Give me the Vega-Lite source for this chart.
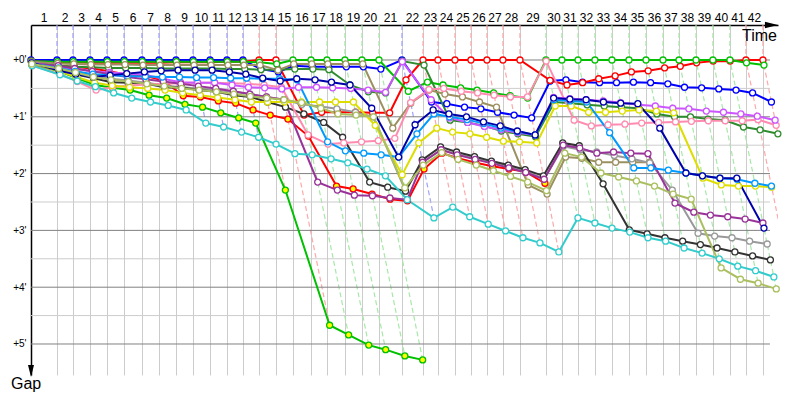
{
"$schema":"https://vega.github.io/schema/vega-lite/v6.json",
"width":747,"height":350,
"autosize":{"type":"none"},
"padding":{"left":31,"top":25,"right":22,"bottom":25},
"config":{"view":{"stroke":null},"font":"Liberation Sans"},
"datasets":{
"drv":[
{"d":"blue","l":0,"t":0,"g":0},{"d":"blue","l":1,"t":2.26,"g":0},{"d":"blue","l":2,"t":3.65,"g":0},{"d":"blue","l":3,"t":5.13,"g":0},{"d":"blue","l":4,"t":6.61,"g":0},{"d":"blue","l":5,"t":8.09,"g":0},{"d":"blue","l":6,"t":9.65,"g":0},{"d":"blue","l":7,"t":11.13,"g":0},{"d":"blue","l":8,"t":12.61,"g":0},{"d":"blue","l":9,"t":14.09,"g":0},{"d":"blue","l":10,"t":15.57,"g":0},{"d":"blue","l":11,"t":17.04,"g":0},{"d":"blue","l":12,"t":18.43,"g":0},{"d":"blue","l":13,"t":19.99,"g":0.16},{"d":"blue","l":14,"t":21.51,"g":0.21},{"d":"blue","l":15,"t":22.88,"g":0.10},{"d":"blue","l":16,"t":24.47,"g":0.12},{"d":"blue","l":17,"t":25.86,"g":0.12},{"d":"blue","l":18,"t":27.42,"g":0.12},{"d":"blue","l":19,"t":28.90,"g":0.12},{"d":"blue","l":20,"t":30.42,"g":0.16},{"d":"blue","l":21,"t":32.26,"g":0},{"d":"blue","l":22,"t":34.83,"g":0.74},{"d":"blue","l":23,"t":36.16,"g":0.77},{"d":"blue","l":24,"t":37.70,"g":0.83},{"d":"blue","l":25,"t":39.12,"g":0.86},{"d":"blue","l":26,"t":40.57,"g":0.92},{"d":"blue","l":27,"t":42.01,"g":0.97},{"d":"blue","l":28,"t":43.54,"g":1.02},{"d":"blue","l":29,"t":45.15,"g":0.37},{"d":"blue","l":30,"t":46.52,"g":0.35},{"d":"blue","l":31,"t":47.96,"g":0.39},{"d":"blue","l":32,"t":49.44,"g":0.40},{"d":"blue","l":33,"t":50.92,"g":0.40},{"d":"blue","l":34,"t":52.39,"g":0.39},{"d":"blue","l":35,"t":53.88,"g":0.40},{"d":"blue","l":36,"t":55.38,"g":0.42},{"d":"blue","l":37,"t":56.83,"g":0.48},{"d":"blue","l":38,"t":58.32,"g":0.49},{"d":"blue","l":39,"t":59.81,"g":0.51},{"d":"blue","l":40,"t":61.31,"g":0.53},{"d":"blue","l":41,"t":62.75,"g":0.58},{"d":"blue","l":42,"t":64.39,"g":0.74},
{"d":"red","l":0,"t":0.02,"g":0.02},{"d":"red","l":1,"t":2.30,"g":0.04},{"d":"red","l":2,"t":3.69,"g":0.04},{"d":"red","l":3,"t":5.18,"g":0.05},{"d":"red","l":4,"t":6.66,"g":0.05},{"d":"red","l":5,"t":8.14,"g":0.05},{"d":"red","l":6,"t":9.70,"g":0.05},{"d":"red","l":7,"t":11.18,"g":0.05},{"d":"red","l":8,"t":12.65,"g":0.04},{"d":"red","l":9,"t":14.13,"g":0.04},{"d":"red","l":10,"t":15.61,"g":0.04},{"d":"red","l":11,"t":17.07,"g":0.03},{"d":"red","l":12,"t":18.46,"g":0.03},{"d":"red","l":13,"t":19.83,"g":0},{"d":"red","l":14,"t":21.30,"g":0},{"d":"red","l":15,"t":23.75,"g":0.97},{"d":"red","l":16,"t":25.27,"g":0.92},{"d":"red","l":17,"t":26.66,"g":0.92},{"d":"red","l":18,"t":28.22,"g":0.92},{"d":"red","l":19,"t":29.71,"g":0.93},{"d":"red","l":20,"t":31.19,"g":0.93},{"d":"red","l":21,"t":32.61,"g":0.35},{"d":"red","l":22,"t":34.09,"g":0},{"d":"red","l":23,"t":35.39,"g":0},{"d":"red","l":24,"t":36.87,"g":0},{"d":"red","l":25,"t":38.26,"g":0},{"d":"red","l":26,"t":39.65,"g":0},{"d":"red","l":27,"t":41.04,"g":0},{"d":"red","l":28,"t":42.52,"g":0},{"d":"red","l":29,"t":45.14,"g":0.36},{"d":"red","l":30,"t":46.61,"g":0.44},{"d":"red","l":31,"t":47.97,"g":0.40},{"d":"red","l":32,"t":49.37,"g":0.33},{"d":"red","l":33,"t":50.80,"g":0.28},{"d":"red","l":34,"t":52.21,"g":0.21},{"d":"red","l":35,"t":53.67,"g":0.19},{"d":"red","l":36,"t":55.10,"g":0.14},{"d":"red","l":37,"t":56.46,"g":0.11},{"d":"red","l":38,"t":57.88,"g":0.05},{"d":"red","l":39,"t":59.32,"g":0.02},{"d":"red","l":40,"t":60.80,"g":0.02},{"d":"red","l":41,"t":62.17,"g":0},{"d":"red","l":42,"t":63.65,"g":0},
{"d":"green","l":0,"t":0.02,"g":0.02},{"d":"green","l":1,"t":2.29,"g":0.03},{"d":"green","l":2,"t":3.68,"g":0.03},{"d":"green","l":3,"t":5.16,"g":0.03},{"d":"green","l":4,"t":6.64,"g":0.03},{"d":"green","l":5,"t":8.12,"g":0.03},{"d":"green","l":6,"t":9.68,"g":0.03},{"d":"green","l":7,"t":11.16,"g":0.03},{"d":"green","l":8,"t":12.64,"g":0.03},{"d":"green","l":9,"t":14.12,"g":0.03},{"d":"green","l":10,"t":15.60,"g":0.03},{"d":"green","l":11,"t":17.07,"g":0.03},{"d":"green","l":12,"t":18.46,"g":0.03},{"d":"green","l":13,"t":19.87,"g":0.04},{"d":"green","l":14,"t":21.37,"g":0.07},{"d":"green","l":15,"t":22.78,"g":0},{"d":"green","l":16,"t":24.35,"g":0},{"d":"green","l":17,"t":25.74,"g":0},{"d":"green","l":18,"t":27.30,"g":0},{"d":"green","l":19,"t":28.78,"g":0},{"d":"green","l":20,"t":30.26,"g":0},{"d":"green","l":21,"t":32.81,"g":0.55},{"d":"green","l":22,"t":34.48,"g":0.39},{"d":"green","l":23,"t":35.83,"g":0.44},{"d":"green","l":24,"t":37.36,"g":0.49},{"d":"green","l":25,"t":38.79,"g":0.53},{"d":"green","l":26,"t":40.23,"g":0.58},{"d":"green","l":27,"t":41.67,"g":0.63},{"d":"green","l":28,"t":43.19,"g":0.67},{"d":"green","l":29,"t":44.78,"g":0},{"d":"green","l":30,"t":46.17,"g":0},{"d":"green","l":31,"t":47.57,"g":0},{"d":"green","l":32,"t":49.04,"g":0},{"d":"green","l":33,"t":50.52,"g":0},{"d":"green","l":34,"t":52.00,"g":0},{"d":"green","l":35,"t":53.48,"g":0},{"d":"green","l":36,"t":54.96,"g":0},{"d":"green","l":37,"t":56.35,"g":0},{"d":"green","l":38,"t":57.83,"g":0},{"d":"green","l":39,"t":59.30,"g":0},{"d":"green","l":40,"t":60.78,"g":0},{"d":"green","l":41,"t":62.22,"g":0.05},{"d":"green","l":42,"t":63.74,"g":0.09},
{"d":"redY","l":0,"t":0.05,"g":0.05},{"d":"redY","l":1,"t":2.36,"g":0.10},{"d":"redY","l":2,"t":3.77,"g":0.12},{"d":"redY","l":3,"t":5.28,"g":0.15},{"d":"redY","l":4,"t":6.81,"g":0.20},{"d":"redY","l":5,"t":8.35,"g":0.26},{"d":"redY","l":6,"t":9.93,"g":0.28},{"d":"redY","l":7,"t":11.49,"g":0.36},{"d":"redY","l":8,"t":13.24,"g":0.63},{"d":"redY","l":9,"t":14.74,"g":0.65},{"d":"redY","l":10,"t":16.29,"g":0.72},{"d":"redY","l":11,"t":17.80,"g":0.76},{"d":"redY","l":12,"t":19.31,"g":0.88},{"d":"redY","l":13,"t":20.80,"g":0.97},{"d":"redY","l":14,"t":22.34,"g":1.04},{"d":"redY","l":15,"t":24.12,"g":1.34},{"d":"redY","l":16,"t":26.57,"g":2.22},{"d":"redY","l":17,"t":28.01,"g":2.27},{"d":"redY","l":18,"t":29.66,"g":2.36},{"d":"redY","l":19,"t":31.23,"g":2.45},{"d":"redY","l":20,"t":32.74,"g":2.48},{"d":"redY","l":21,"t":34.18,"g":1.92},{"d":"redY","l":22,"t":35.73,"g":1.64},{"d":"redY","l":23,"t":37.12,"g":1.73},{"d":"redY","l":24,"t":38.68,"g":1.81},{"d":"redY","l":25,"t":40.13,"g":1.87},{"d":"redY","l":26,"t":41.57,"g":1.92},{"d":"redY","l":27,"t":43.01,"g":1.97},{"d":"redY","l":28,"t":44.69,"g":2.17},
{"d":"greenY","l":0,"t":0.08,"g":0.08},{"d":"greenY","l":1,"t":2.46,"g":0.20},{"d":"greenY","l":2,"t":3.97,"g":0.32},{"d":"greenY","l":3,"t":5.57,"g":0.44},{"d":"greenY","l":4,"t":7.10,"g":0.49},{"d":"greenY","l":5,"t":8.62,"g":0.53},{"d":"greenY","l":6,"t":10.27,"g":0.62},{"d":"greenY","l":7,"t":11.80,"g":0.67},{"d":"greenY","l":8,"t":13.39,"g":0.78},{"d":"greenY","l":9,"t":14.92,"g":0.83},{"d":"greenY","l":10,"t":16.50,"g":0.93},{"d":"greenY","l":11,"t":18.06,"g":1.02},{"d":"greenY","l":12,"t":19.54,"g":1.11},{"d":"greenY","l":13,"t":22.12,"g":2.29},{"d":"greenY","l":14,"t":25.97,"g":4.67},{"d":"greenY","l":15,"t":27.62,"g":4.84},{"d":"greenY","l":16,"t":29.37,"g":5.02},{"d":"greenY","l":17,"t":30.84,"g":5.10},{"d":"greenY","l":18,"t":32.51,"g":5.21},{"d":"greenY","l":19,"t":34.06,"g":5.28},
{"d":"darkgreen","l":0,"t":0.05,"g":0.05},{"d":"darkgreen","l":1,"t":2.36,"g":0.10},{"d":"darkgreen","l":2,"t":3.77,"g":0.12},{"d":"darkgreen","l":3,"t":5.26,"g":0.13},{"d":"darkgreen","l":4,"t":6.75,"g":0.14},{"d":"darkgreen","l":5,"t":8.23,"g":0.14},{"d":"darkgreen","l":6,"t":9.79,"g":0.14},{"d":"darkgreen","l":7,"t":11.28,"g":0.15},{"d":"darkgreen","l":8,"t":12.76,"g":0.15},{"d":"darkgreen","l":9,"t":14.24,"g":0.15},{"d":"darkgreen","l":10,"t":15.72,"g":0.15},{"d":"darkgreen","l":11,"t":17.20,"g":0.16},{"d":"darkgreen","l":12,"t":18.59,"g":0.16},{"d":"darkgreen","l":13,"t":20.00,"g":0.17},{"d":"darkgreen","l":14,"t":21.47,"g":0.17},{"d":"darkgreen","l":15,"t":22.94,"g":0.16},{"d":"darkgreen","l":16,"t":24.51,"g":0.16},{"d":"darkgreen","l":17,"t":25.91,"g":0.17},{"d":"darkgreen","l":18,"t":27.74,"g":0.44},{"d":"darkgreen","l":19,"t":29.34,"g":0.56},{"d":"darkgreen","l":20,"t":30.84,"g":0.58},{"d":"darkgreen","l":21,"t":32.28,"g":0.02},{"d":"darkgreen","l":22,"t":34.18,"g":0.09},{"d":"darkgreen","l":23,"t":36.45,"g":1.06},{"d":"darkgreen","l":24,"t":37.97,"g":1.10},{"d":"darkgreen","l":25,"t":39.42,"g":1.16},{"d":"darkgreen","l":26,"t":40.90,"g":1.25},{"d":"darkgreen","l":27,"t":42.34,"g":1.30},{"d":"darkgreen","l":28,"t":43.87,"g":1.35},{"d":"darkgreen","l":29,"t":45.52,"g":0.74},{"d":"darkgreen","l":30,"t":46.93,"g":0.76},{"d":"darkgreen","l":31,"t":48.36,"g":0.79},{"d":"darkgreen","l":32,"t":49.85,"g":0.81},{"d":"darkgreen","l":33,"t":51.35,"g":0.83},{"d":"darkgreen","l":34,"t":52.85,"g":0.85},{"d":"darkgreen","l":35,"t":54.43,"g":0.95},{"d":"darkgreen","l":36,"t":55.96,"g":1.00},{"d":"darkgreen","l":37,"t":57.35,"g":1.00},{"d":"darkgreen","l":38,"t":58.87,"g":1.04},{"d":"darkgreen","l":39,"t":60.36,"g":1.06},{"d":"darkgreen","l":40,"t":61.96,"g":1.18},{"d":"darkgreen","l":41,"t":63.40,"g":1.23},{"d":"darkgreen","l":42,"t":64.95,"g":1.30},
{"d":"olive","l":0,"t":0.03,"g":0.03},{"d":"olive","l":1,"t":2.32,"g":0.06},{"d":"olive","l":2,"t":3.72,"g":0.07},{"d":"olive","l":3,"t":5.21,"g":0.08},{"d":"olive","l":4,"t":6.69,"g":0.08},{"d":"olive","l":5,"t":8.17,"g":0.08},{"d":"olive","l":6,"t":9.74,"g":0.09},{"d":"olive","l":7,"t":11.22,"g":0.09},{"d":"olive","l":8,"t":12.70,"g":0.09},{"d":"olive","l":9,"t":14.18,"g":0.09},{"d":"olive","l":10,"t":15.66,"g":0.09},{"d":"olive","l":11,"t":17.13,"g":0.09},{"d":"olive","l":12,"t":18.52,"g":0.09},{"d":"olive","l":13,"t":19.92,"g":0.09},{"d":"olive","l":14,"t":21.48,"g":0.18},{"d":"olive","l":15,"t":22.85,"g":0.07},{"d":"olive","l":16,"t":24.42,"g":0.07},{"d":"olive","l":17,"t":25.81,"g":0.07},{"d":"olive","l":18,"t":27.37,"g":0.07},{"d":"olive","l":19,"t":28.85,"g":0.07},{"d":"olive","l":20,"t":31.46,"g":1.20},{"d":"olive","l":21,"t":33.02,"g":0.76},{"d":"olive","l":22,"t":34.62,"g":0.53},{"d":"olive","l":23,"t":35.99,"g":0.60},{"d":"olive","l":24,"t":37.52,"g":0.65},{"d":"olive","l":25,"t":39.00,"g":0.74},{"d":"olive","l":26,"t":40.48,"g":0.83},{"d":"olive","l":27,"t":43.24,"g":2.20},{"d":"olive","l":28,"t":44.88,"g":2.36},{"d":"olive","l":29,"t":46.49,"g":1.71},{"d":"olive","l":30,"t":47.90,"g":1.73},{"d":"olive","l":31,"t":49.37,"g":1.80},{"d":"olive","l":32,"t":50.84,"g":1.80},{"d":"olive","l":33,"t":52.32,"g":1.80},{"d":"olive","l":34,"t":53.80,"g":1.80},
{"d":"gray","l":0,"t":0.07,"g":0.07},{"d":"gray","l":1,"t":2.41,"g":0.15},{"d":"gray","l":2,"t":3.85,"g":0.20},{"d":"gray","l":3,"t":5.40,"g":0.27},{"d":"gray","l":4,"t":6.94,"g":0.33},{"d":"gray","l":5,"t":8.45,"g":0.36},{"d":"gray","l":6,"t":10.05,"g":0.40},{"d":"gray","l":7,"t":11.58,"g":0.45},{"d":"gray","l":8,"t":13.09,"g":0.48},{"d":"gray","l":9,"t":14.59,"g":0.50},{"d":"gray","l":10,"t":16.10,"g":0.53},{"d":"gray","l":11,"t":17.60,"g":0.56},{"d":"gray","l":12,"t":19.03,"g":0.60},{"d":"gray","l":13,"t":20.48,"g":0.65},{"d":"gray","l":14,"t":22.00,"g":0.70},{"d":"gray","l":15,"t":23.56,"g":0.78},{"d":"gray","l":16,"t":25.17,"g":0.82},{"d":"gray","l":17,"t":26.60,"g":0.86},{"d":"gray","l":18,"t":28.22,"g":0.92},{"d":"gray","l":19,"t":29.78,"g":1.00},{"d":"gray","l":20,"t":32.56,"g":2.30},{"d":"gray","l":21,"t":34.06,"g":1.80},{"d":"gray","l":22,"t":35.67,"g":1.58},{"d":"gray","l":23,"t":37.05,"g":1.66},{"d":"gray","l":24,"t":38.60,"g":1.73},{"d":"gray","l":25,"t":40.06,"g":1.80},{"d":"gray","l":26,"t":41.53,"g":1.88},{"d":"gray","l":27,"t":42.99,"g":1.95},{"d":"gray","l":28,"t":44.62,"g":2.10},{"d":"gray","l":29,"t":46.30,"g":1.52},{"d":"gray","l":30,"t":47.75,"g":1.58},{"d":"gray","l":31,"t":49.19,"g":1.62},{"d":"gray","l":32,"t":50.72,"g":1.68},{"d":"gray","l":33,"t":52.26,"g":1.74},{"d":"gray","l":34,"t":53.81,"g":1.81},{"d":"gray","l":35,"t":55.77,"g":2.29},{"d":"gray","l":36,"t":58.01,"g":3.05},{"d":"gray","l":37,"t":59.45,"g":3.10},{"d":"gray","l":38,"t":60.96,"g":3.13},{"d":"gray","l":39,"t":62.49,"g":3.19},{"d":"gray","l":40,"t":64.02,"g":3.24},
{"d":"black","l":0,"t":0.08,"g":0.08},{"d":"black","l":1,"t":2.41,"g":0.15},{"d":"black","l":2,"t":3.90,"g":0.25},{"d":"black","l":3,"t":5.45,"g":0.32},{"d":"black","l":4,"t":7.00,"g":0.39},{"d":"black","l":5,"t":8.49,"g":0.40},{"d":"black","l":6,"t":10.07,"g":0.42},{"d":"black","l":7,"t":11.61,"g":0.48},{"d":"black","l":8,"t":13.10,"g":0.49},{"d":"black","l":9,"t":14.62,"g":0.53},{"d":"black","l":10,"t":16.13,"g":0.56},{"d":"black","l":11,"t":17.66,"g":0.62},{"d":"black","l":12,"t":19.08,"g":0.65},{"d":"black","l":13,"t":20.57,"g":0.74},{"d":"black","l":14,"t":22.13,"g":0.83},{"d":"black","l":15,"t":23.73,"g":0.95},{"d":"black","l":16,"t":25.45,"g":1.10},{"d":"black","l":17,"t":27.10,"g":1.36},{"d":"black","l":18,"t":29.45,"g":2.15},{"d":"black","l":19,"t":31.02,"g":2.24},{"d":"black","l":20,"t":32.57,"g":2.31},{"d":"black","l":21,"t":34.02,"g":1.76},{"d":"black","l":22,"t":35.62,"g":1.53},{"d":"black","l":23,"t":37.01,"g":1.62},{"d":"black","l":24,"t":38.57,"g":1.70},{"d":"black","l":25,"t":40.04,"g":1.78},{"d":"black","l":26,"t":41.50,"g":1.85},{"d":"black","l":27,"t":42.97,"g":1.93},{"d":"black","l":28,"t":44.56,"g":2.04},{"d":"black","l":29,"t":46.24,"g":1.46},{"d":"black","l":30,"t":47.68,"g":1.51},{"d":"black","l":31,"t":49.75,"g":2.18},{"d":"black","l":32,"t":52.03,"g":2.99},{"d":"black","l":33,"t":53.58,"g":3.06},{"d":"black","l":34,"t":55.13,"g":3.13},{"d":"black","l":35,"t":56.67,"g":3.19},{"d":"black","l":36,"t":58.21,"g":3.25},{"d":"black","l":37,"t":59.66,"g":3.31},{"d":"black","l":38,"t":61.21,"g":3.38},{"d":"black","l":39,"t":62.75,"g":3.45},{"d":"black","l":40,"t":64.30,"g":3.52},
{"d":"pink","l":0,"t":0.10,"g":0.10},{"d":"pink","l":1,"t":2.51,"g":0.25},{"d":"pink","l":2,"t":4.03,"g":0.38},{"d":"pink","l":3,"t":5.66,"g":0.53},{"d":"pink","l":4,"t":7.09,"g":0.48},{"d":"pink","l":5,"t":8.54,"g":0.45},{"d":"pink","l":6,"t":10.08,"g":0.43},{"d":"pink","l":7,"t":11.55,"g":0.42},{"d":"pink","l":8,"t":13.02,"g":0.41},{"d":"pink","l":9,"t":14.49,"g":0.40},{"d":"pink","l":10,"t":15.97,"g":0.40},{"d":"pink","l":11,"t":17.45,"g":0.41},{"d":"pink","l":12,"t":18.85,"g":0.42},{"d":"pink","l":13,"t":20.27,"g":0.44},{"d":"pink","l":14,"t":21.78,"g":0.48},{"d":"pink","l":15,"t":24.10,"g":1.32},{"d":"pink","l":16,"t":25.83,"g":1.48},{"d":"pink","l":17,"t":27.20,"g":1.46},{"d":"pink","l":18,"t":28.74,"g":1.44},{"d":"pink","l":19,"t":30.20,"g":1.42},{"d":"pink","l":20,"t":31.64,"g":1.38},{"d":"pink","l":21,"t":33.01,"g":0.75},{"d":"pink","l":22,"t":34.61,"g":0.52},{"d":"pink","l":23,"t":35.89,"g":0.50},{"d":"pink","l":24,"t":37.42,"g":0.55},{"d":"pink","l":25,"t":38.84,"g":0.58},{"d":"pink","l":26,"t":40.27,"g":0.62},{"d":"pink","l":27,"t":41.69,"g":0.65},{"d":"pink","l":28,"t":43.17,"g":0.65},{"d":"pink","l":29,"t":44.80,"g":0.02},{"d":"pink","l":30,"t":47.23,"g":1.06},{"d":"pink","l":31,"t":48.73,"g":1.16},{"d":"pink","l":32,"t":50.18,"g":1.14},{"d":"pink","l":33,"t":51.65,"g":1.13},{"d":"pink","l":34,"t":53.11,"g":1.11},{"d":"pink","l":35,"t":54.58,"g":1.10},{"d":"pink","l":36,"t":56.05,"g":1.09},{"d":"pink","l":37,"t":57.43,"g":1.08},{"d":"pink","l":38,"t":58.90,"g":1.07},{"d":"pink","l":39,"t":60.37,"g":1.07},{"d":"pink","l":40,"t":61.85,"g":1.07},{"d":"pink","l":41,"t":63.22,"g":1.05},{"d":"pink","l":42,"t":64.80,"g":1.15},
{"d":"violet","l":0,"t":0.05,"g":0.05},{"d":"violet","l":1,"t":2.38,"g":0.12},{"d":"violet","l":2,"t":3.81,"g":0.16},{"d":"violet","l":3,"t":5.33,"g":0.20},{"d":"violet","l":4,"t":6.83,"g":0.22},{"d":"violet","l":5,"t":8.33,"g":0.24},{"d":"violet","l":6,"t":9.91,"g":0.26},{"d":"violet","l":7,"t":11.46,"g":0.33},{"d":"violet","l":8,"t":13.00,"g":0.39},{"d":"violet","l":9,"t":14.49,"g":0.40},{"d":"violet","l":10,"t":15.97,"g":0.40},{"d":"violet","l":11,"t":17.48,"g":0.44},{"d":"violet","l":12,"t":18.91,"g":0.48},{"d":"violet","l":13,"t":20.32,"g":0.49},{"d":"violet","l":14,"t":21.81,"g":0.51},{"d":"violet","l":15,"t":23.26,"g":0.48},{"d":"violet","l":16,"t":24.83,"g":0.48},{"d":"violet","l":17,"t":26.23,"g":0.49},{"d":"violet","l":18,"t":27.80,"g":0.50},{"d":"violet","l":19,"t":29.31,"g":0.53},{"d":"violet","l":20,"t":30.83,"g":0.57},{"d":"violet","l":21,"t":32.29,"g":0.03},{"d":"violet","l":22,"t":34.79,"g":0.70},{"d":"violet","l":23,"t":36.41,"g":1.02},{"d":"violet","l":24,"t":37.97,"g":1.10},{"d":"violet","l":25,"t":39.43,"g":1.17},{"d":"violet","l":26,"t":40.88,"g":1.23},{"d":"violet","l":27,"t":42.32,"g":1.28},{"d":"violet","l":28,"t":43.84,"g":1.32},{"d":"violet","l":29,"t":45.44,"g":0.66},{"d":"violet","l":30,"t":46.85,"g":0.68},{"d":"violet","l":31,"t":48.27,"g":0.70},{"d":"violet","l":32,"t":49.76,"g":0.72},{"d":"violet","l":33,"t":51.27,"g":0.75},{"d":"violet","l":34,"t":52.79,"g":0.79},{"d":"violet","l":35,"t":54.29,"g":0.81},{"d":"violet","l":36,"t":55.81,"g":0.85},{"d":"violet","l":37,"t":57.21,"g":0.86},{"d":"violet","l":38,"t":58.73,"g":0.90},{"d":"violet","l":39,"t":60.22,"g":0.92},{"d":"violet","l":40,"t":61.73,"g":0.95},{"d":"violet","l":41,"t":63.16,"g":0.99},{"d":"violet","l":42,"t":64.71,"g":1.06},
{"d":"purple","l":0,"t":0.06,"g":0.06},{"d":"purple","l":1,"t":2.36,"g":0.10},{"d":"purple","l":2,"t":3.80,"g":0.15},{"d":"purple","l":3,"t":5.33,"g":0.20},{"d":"purple","l":4,"t":6.86,"g":0.25},{"d":"purple","l":5,"t":8.39,"g":0.30},{"d":"purple","l":6,"t":9.99,"g":0.34},{"d":"purple","l":7,"t":11.51,"g":0.38},{"d":"purple","l":8,"t":13.03,"g":0.42},{"d":"purple","l":9,"t":14.55,"g":0.46},{"d":"purple","l":10,"t":16.07,"g":0.50},{"d":"purple","l":11,"t":17.59,"g":0.55},{"d":"purple","l":12,"t":19.03,"g":0.60},{"d":"purple","l":13,"t":20.48,"g":0.65},{"d":"purple","l":14,"t":22.00,"g":0.70},{"d":"purple","l":15,"t":24.93,"g":2.15},{"d":"purple","l":16,"t":26.64,"g":2.29},{"d":"purple","l":17,"t":28.12,"g":2.38},{"d":"purple","l":18,"t":29.69,"g":2.39},{"d":"purple","l":19,"t":31.21,"g":2.43},{"d":"purple","l":20,"t":32.72,"g":2.46},{"d":"purple","l":21,"t":34.06,"g":1.80},{"d":"purple","l":22,"t":35.67,"g":1.58},{"d":"purple","l":23,"t":37.06,"g":1.67},{"d":"purple","l":24,"t":38.62,"g":1.75},{"d":"purple","l":25,"t":40.08,"g":1.82},{"d":"purple","l":26,"t":41.55,"g":1.90},{"d":"purple","l":27,"t":43.02,"g":1.98},{"d":"purple","l":28,"t":44.62,"g":2.10},{"d":"purple","l":29,"t":46.28,"g":1.50},{"d":"purple","l":30,"t":47.72,"g":1.55},{"d":"purple","l":31,"t":49.21,"g":1.64},{"d":"purple","l":32,"t":50.66,"g":1.62},{"d":"purple","l":33,"t":52.16,"g":1.64},{"d":"purple","l":34,"t":53.65,"g":1.65},{"d":"purple","l":35,"t":56.00,"g":2.52},{"d":"purple","l":36,"t":57.64,"g":2.68},{"d":"purple","l":37,"t":59.08,"g":2.73},{"d":"purple","l":38,"t":60.59,"g":2.76},{"d":"purple","l":39,"t":62.10,"g":2.80},{"d":"purple","l":40,"t":63.65,"g":2.87},
{"d":"yellow","l":0,"t":0.06,"g":0.06},{"d":"yellow","l":1,"t":2.46,"g":0.20},{"d":"yellow","l":2,"t":3.95,"g":0.30},{"d":"yellow","l":3,"t":5.53,"g":0.40},{"d":"yellow","l":4,"t":7.06,"g":0.45},{"d":"yellow","l":5,"t":8.57,"g":0.48},{"d":"yellow","l":6,"t":10.15,"g":0.50},{"d":"yellow","l":7,"t":11.66,"g":0.53},{"d":"yellow","l":8,"t":13.19,"g":0.58},{"d":"yellow","l":9,"t":14.71,"g":0.62},{"d":"yellow","l":10,"t":16.23,"g":0.66},{"d":"yellow","l":11,"t":17.74,"g":0.70},{"d":"yellow","l":12,"t":19.17,"g":0.74},{"d":"yellow","l":13,"t":20.57,"g":0.74},{"d":"yellow","l":14,"t":22.04,"g":0.74},{"d":"yellow","l":15,"t":23.52,"g":0.74},{"d":"yellow","l":16,"t":25.09,"g":0.74},{"d":"yellow","l":17,"t":26.48,"g":0.74},{"d":"yellow","l":18,"t":28.04,"g":0.74},{"d":"yellow","l":19,"t":29.93,"g":1.15},{"d":"yellow","l":20,"t":32.28,"g":2.02},{"d":"yellow","l":21,"t":33.72,"g":1.46},{"d":"yellow","l":22,"t":35.29,"g":1.20},{"d":"yellow","l":23,"t":36.66,"g":1.27},{"d":"yellow","l":24,"t":38.17,"g":1.30},{"d":"yellow","l":25,"t":39.62,"g":1.36},{"d":"yellow","l":26,"t":41.08,"g":1.43},{"d":"yellow","l":27,"t":42.48,"g":1.44},{"d":"yellow","l":28,"t":43.98,"g":1.46},{"d":"yellow","l":29,"t":45.59,"g":0.81},{"d":"yellow","l":30,"t":46.98,"g":0.81},{"d":"yellow","l":31,"t":48.49,"g":0.92},{"d":"yellow","l":32,"t":49.96,"g":0.92},{"d":"yellow","l":33,"t":51.42,"g":0.90},{"d":"yellow","l":34,"t":52.88,"g":0.88},{"d":"yellow","l":35,"t":54.38,"g":0.90},{"d":"yellow","l":36,"t":55.89,"g":0.93},{"d":"yellow","l":37,"t":58.43,"g":2.08},{"d":"yellow","l":38,"t":60.03,"g":2.20},{"d":"yellow","l":39,"t":61.52,"g":2.22},{"d":"yellow","l":40,"t":63.00,"g":2.22},{"d":"yellow","l":41,"t":64.41,"g":2.24},
{"d":"sky","l":0,"t":0.06,"g":0.06},{"d":"sky","l":1,"t":2.40,"g":0.14},{"d":"sky","l":2,"t":3.85,"g":0.20},{"d":"sky","l":3,"t":5.38,"g":0.25},{"d":"sky","l":4,"t":6.88,"g":0.27},{"d":"sky","l":5,"t":8.37,"g":0.28},{"d":"sky","l":6,"t":9.94,"g":0.29},{"d":"sky","l":7,"t":11.43,"g":0.30},{"d":"sky","l":8,"t":12.91,"g":0.30},{"d":"sky","l":9,"t":14.40,"g":0.31},{"d":"sky","l":10,"t":15.88,"g":0.31},{"d":"sky","l":11,"t":17.36,"g":0.32},{"d":"sky","l":12,"t":18.75,"g":0.32},{"d":"sky","l":13,"t":20.16,"g":0.33},{"d":"sky","l":14,"t":21.63,"g":0.33},{"d":"sky","l":15,"t":23.13,"g":0.35},{"d":"sky","l":16,"t":25.79,"g":1.44},{"d":"sky","l":17,"t":27.34,"g":1.60},{"d":"sky","l":18,"t":28.94,"g":1.64},{"d":"sky","l":19,"t":30.45,"g":1.67},{"d":"sky","l":20,"t":31.97,"g":1.71},{"d":"sky","l":21,"t":33.56,"g":1.30},{"d":"sky","l":22,"t":35.04,"g":0.95},{"d":"sky","l":23,"t":36.39,"g":1.00},{"d":"sky","l":24,"t":37.92,"g":1.05},{"d":"sky","l":25,"t":39.38,"g":1.12},{"d":"sky","l":26,"t":40.85,"g":1.20},{"d":"sky","l":27,"t":42.30,"g":1.26},{"d":"sky","l":28,"t":43.84,"g":1.32},{"d":"sky","l":29,"t":45.48,"g":0.70},{"d":"sky","l":30,"t":46.89,"g":0.72},{"d":"sky","l":31,"t":48.31,"g":0.74},{"d":"sky","l":32,"t":50.32,"g":1.28},{"d":"sky","l":33,"t":52.42,"g":1.90},{"d":"sky","l":34,"t":53.90,"g":1.90},{"d":"sky","l":35,"t":55.42,"g":1.94},{"d":"sky","l":36,"t":56.95,"g":1.99},{"d":"sky","l":37,"t":58.39,"g":2.04},{"d":"sky","l":38,"t":59.91,"g":2.08},{"d":"sky","l":39,"t":61.40,"g":2.10},{"d":"sky","l":40,"t":62.95,"g":2.17},{"d":"sky","l":41,"t":64.39,"g":2.22},
{"d":"navy","l":0,"t":0.05,"g":0.05},{"d":"navy","l":1,"t":2.45,"g":0.19},{"d":"navy","l":2,"t":3.90,"g":0.25},{"d":"navy","l":3,"t":5.43,"g":0.30},{"d":"navy","l":4,"t":6.88,"g":0.27},{"d":"navy","l":5,"t":8.33,"g":0.24},{"d":"navy","l":6,"t":9.86,"g":0.21},{"d":"navy","l":7,"t":11.32,"g":0.19},{"d":"navy","l":8,"t":12.79,"g":0.18},{"d":"navy","l":9,"t":14.27,"g":0.18},{"d":"navy","l":10,"t":15.75,"g":0.18},{"d":"navy","l":11,"t":17.25,"g":0.21},{"d":"navy","l":12,"t":18.68,"g":0.25},{"d":"navy","l":13,"t":20.15,"g":0.32},{"d":"navy","l":14,"t":21.67,"g":0.37},{"d":"navy","l":15,"t":23.11,"g":0.33},{"d":"navy","l":16,"t":24.70,"g":0.35},{"d":"navy","l":17,"t":26.13,"g":0.39},{"d":"navy","l":18,"t":27.74,"g":0.44},{"d":"navy","l":19,"t":29.63,"g":0.85},{"d":"navy","l":20,"t":31.97,"g":1.71},{"d":"navy","l":21,"t":33.40,"g":1.14},{"d":"navy","l":22,"t":34.97,"g":0.88},{"d":"navy","l":23,"t":36.34,"g":0.95},{"d":"navy","l":24,"t":37.87,"g":1.00},{"d":"navy","l":25,"t":39.35,"g":1.09},{"d":"navy","l":26,"t":40.81,"g":1.16},{"d":"navy","l":27,"t":42.29,"g":1.25},{"d":"navy","l":28,"t":43.84,"g":1.32},{"d":"navy","l":29,"t":45.45,"g":0.67},{"d":"navy","l":30,"t":46.86,"g":0.69},{"d":"navy","l":31,"t":48.27,"g":0.70},{"d":"navy","l":32,"t":49.78,"g":0.74},{"d":"navy","l":33,"t":51.28,"g":0.76},{"d":"navy","l":34,"t":52.77,"g":0.77},{"d":"navy","l":35,"t":54.68,"g":1.20},{"d":"navy","l":36,"t":56.95,"g":1.99},{"d":"navy","l":37,"t":58.39,"g":2.04},{"d":"navy","l":38,"t":59.91,"g":2.08},{"d":"navy","l":39,"t":61.38,"g":2.08},{"d":"navy","l":40,"t":63.74,"g":2.96},
{"d":"cyan","l":0,"t":0.10,"g":0.10},{"d":"cyan","l":1,"t":2.52,"g":0.26},{"d":"cyan","l":2,"t":4.02,"g":0.37},{"d":"cyan","l":3,"t":5.60,"g":0.47},{"d":"cyan","l":4,"t":7.19,"g":0.58},{"d":"cyan","l":5,"t":8.76,"g":0.67},{"d":"cyan","l":6,"t":10.39,"g":0.74},{"d":"cyan","l":7,"t":11.93,"g":0.80},{"d":"cyan","l":8,"t":13.49,"g":0.88},{"d":"cyan","l":9,"t":15.20,"g":1.11},{"d":"cyan","l":10,"t":16.75,"g":1.18},{"d":"cyan","l":11,"t":18.31,"g":1.27},{"d":"cyan","l":12,"t":19.79,"g":1.36},{"d":"cyan","l":13,"t":21.31,"g":1.48},{"d":"cyan","l":14,"t":22.95,"g":1.65},{"d":"cyan","l":15,"t":24.45,"g":1.67},{"d":"cyan","l":16,"t":26.09,"g":1.74},{"d":"cyan","l":17,"t":27.55,"g":1.81},{"d":"cyan","l":18,"t":29.22,"g":1.92},{"d":"cyan","l":19,"t":30.82,"g":2.04},{"d":"cyan","l":20,"t":32.72,"g":2.46},{"d":"cyan","l":21,"t":35.04,"g":2.78},{"d":"cyan","l":22,"t":36.68,"g":2.59},{"d":"cyan","l":23,"t":38.15,"g":2.76},{"d":"cyan","l":24,"t":39.76,"g":2.89},{"d":"cyan","l":25,"t":41.27,"g":3.01},{"d":"cyan","l":26,"t":42.78,"g":3.13},{"d":"cyan","l":27,"t":44.26,"g":3.22},{"d":"cyan","l":28,"t":45.90,"g":3.38},{"d":"cyan","l":29,"t":47.56,"g":2.78},{"d":"cyan","l":30,"t":49.04,"g":2.87},{"d":"cyan","l":31,"t":50.53,"g":2.96},{"d":"cyan","l":32,"t":52.07,"g":3.03},{"d":"cyan","l":33,"t":53.65,"g":3.13},{"d":"cyan","l":34,"t":55.19,"g":3.19},{"d":"cyan","l":35,"t":56.79,"g":3.31},{"d":"cyan","l":36,"t":58.36,"g":3.40},{"d":"cyan","l":37,"t":59.85,"g":3.50},{"d":"cyan","l":38,"t":61.46,"g":3.63},{"d":"cyan","l":39,"t":63.01,"g":3.71},{"d":"cyan","l":40,"t":64.60,"g":3.82},
{"d":"ygreen","l":0,"t":0.07,"g":0.07},{"d":"ygreen","l":1,"t":2.41,"g":0.15},{"d":"ygreen","l":2,"t":3.87,"g":0.22},{"d":"ygreen","l":3,"t":5.43,"g":0.30},{"d":"ygreen","l":4,"t":6.96,"g":0.35},{"d":"ygreen","l":5,"t":8.47,"g":0.38},{"d":"ygreen","l":6,"t":10.07,"g":0.42},{"d":"ygreen","l":7,"t":11.59,"g":0.46},{"d":"ygreen","l":8,"t":13.11,"g":0.50},{"d":"ygreen","l":9,"t":14.62,"g":0.53},{"d":"ygreen","l":10,"t":16.13,"g":0.56},{"d":"ygreen","l":11,"t":17.64,"g":0.60},{"d":"ygreen","l":12,"t":19.07,"g":0.64},{"d":"ygreen","l":13,"t":20.50,"g":0.67},{"d":"ygreen","l":14,"t":22.00,"g":0.70},{"d":"ygreen","l":15,"t":23.53,"g":0.75},{"d":"ygreen","l":16,"t":25.20,"g":0.85},{"d":"ygreen","l":17,"t":26.69,"g":0.95},{"d":"ygreen","l":18,"t":28.27,"g":0.97},{"d":"ygreen","l":19,"t":29.78,"g":1.00},{"d":"ygreen","l":20,"t":32.51,"g":2.25},{"d":"ygreen","l":21,"t":34.11,"g":1.85},{"d":"ygreen","l":22,"t":35.72,"g":1.63},{"d":"ygreen","l":23,"t":37.14,"g":1.75},{"d":"ygreen","l":24,"t":38.72,"g":1.85},{"d":"ygreen","l":25,"t":40.21,"g":1.95},{"d":"ygreen","l":26,"t":41.70,"g":2.05},{"d":"ygreen","l":27,"t":43.19,"g":2.15},{"d":"ygreen","l":28,"t":44.82,"g":2.30},{"d":"ygreen","l":29,"t":46.42,"g":1.64},{"d":"ygreen","l":30,"t":47.88,"g":1.71},{"d":"ygreen","l":31,"t":49.56,"g":1.99},{"d":"ygreen","l":32,"t":51.10,"g":2.06},{"d":"ygreen","l":33,"t":52.65,"g":2.13},{"d":"ygreen","l":34,"t":54.22,"g":2.22},{"d":"ygreen","l":35,"t":55.84,"g":2.36},{"d":"ygreen","l":36,"t":57.41,"g":2.45},{"d":"ygreen","l":37,"t":60.01,"g":3.66},{"d":"ygreen","l":38,"t":61.69,"g":3.86},{"d":"ygreen","l":39,"t":63.23,"g":3.93},{"d":"ygreen","l":40,"t":64.81,"g":4.03}
],
"laps":[
{"n":1,"ld":"blue","t":2.26,"g":-0.616},{"n":1,"ld":"blue","t":2.26,"g":0},{"n":1,"ld":"blue","t":2.52,"g":0.26},
{"n":2,"ld":"blue","t":3.65,"g":-0.616},{"n":2,"ld":"blue","t":3.65,"g":0},{"n":2,"ld":"blue","t":4.03,"g":0.38},
{"n":3,"ld":"blue","t":5.13,"g":-0.616},{"n":3,"ld":"blue","t":5.13,"g":0},{"n":3,"ld":"blue","t":5.66,"g":0.53},
{"n":4,"ld":"blue","t":6.61,"g":-0.616},{"n":4,"ld":"blue","t":6.61,"g":0},{"n":4,"ld":"blue","t":7.19,"g":0.58},
{"n":5,"ld":"blue","t":8.09,"g":-0.616},{"n":5,"ld":"blue","t":8.09,"g":0},{"n":5,"ld":"blue","t":8.76,"g":0.67},
{"n":6,"ld":"blue","t":9.65,"g":-0.616},{"n":6,"ld":"blue","t":9.65,"g":0},{"n":6,"ld":"blue","t":10.39,"g":0.74},
{"n":7,"ld":"blue","t":11.13,"g":-0.616},{"n":7,"ld":"blue","t":11.13,"g":0},{"n":7,"ld":"blue","t":11.93,"g":0.80},
{"n":8,"ld":"blue","t":12.61,"g":-0.616},{"n":8,"ld":"blue","t":12.61,"g":0},{"n":8,"ld":"blue","t":13.49,"g":0.88},
{"n":9,"ld":"blue","t":14.09,"g":-0.616},{"n":9,"ld":"blue","t":14.09,"g":0},{"n":9,"ld":"blue","t":15.20,"g":1.11},
{"n":10,"ld":"blue","t":15.57,"g":-0.616},{"n":10,"ld":"blue","t":15.57,"g":0},{"n":10,"ld":"blue","t":16.75,"g":1.18},
{"n":11,"ld":"blue","t":17.04,"g":-0.616},{"n":11,"ld":"blue","t":17.04,"g":0},{"n":11,"ld":"blue","t":18.31,"g":1.27},
{"n":12,"ld":"blue","t":18.43,"g":-0.616},{"n":12,"ld":"blue","t":18.43,"g":0},{"n":12,"ld":"blue","t":19.79,"g":1.36},
{"n":13,"ld":"red","t":19.83,"g":-0.616},{"n":13,"ld":"red","t":19.83,"g":0},{"n":13,"ld":"red","t":22.12,"g":2.29},
{"n":14,"ld":"red","t":21.30,"g":-0.616},{"n":14,"ld":"red","t":21.30,"g":0},{"n":14,"ld":"red","t":25.97,"g":4.67},
{"n":15,"ld":"green","t":22.78,"g":-0.616},{"n":15,"ld":"green","t":22.78,"g":0},{"n":15,"ld":"green","t":27.62,"g":4.84},
{"n":16,"ld":"green","t":24.35,"g":-0.616},{"n":16,"ld":"green","t":24.35,"g":0},{"n":16,"ld":"green","t":29.37,"g":5.02},
{"n":17,"ld":"green","t":25.74,"g":-0.616},{"n":17,"ld":"green","t":25.74,"g":0},{"n":17,"ld":"green","t":30.84,"g":5.10},
{"n":18,"ld":"green","t":27.30,"g":-0.616},{"n":18,"ld":"green","t":27.30,"g":0},{"n":18,"ld":"green","t":32.51,"g":5.21},
{"n":19,"ld":"green","t":28.78,"g":-0.616},{"n":19,"ld":"green","t":28.78,"g":0},{"n":19,"ld":"green","t":34.06,"g":5.28},
{"n":20,"ld":"green","t":30.26,"g":-0.616},{"n":20,"ld":"green","t":30.26,"g":0},{"n":20,"ld":"green","t":32.74,"g":2.48},
{"n":21,"ld":"blue","t":32.26,"g":-0.616},{"n":21,"ld":"blue","t":32.26,"g":0},{"n":21,"ld":"blue","t":35.04,"g":2.78},
{"n":22,"ld":"red","t":34.09,"g":-0.616},{"n":22,"ld":"red","t":34.09,"g":0},{"n":22,"ld":"red","t":36.68,"g":2.59},
{"n":23,"ld":"red","t":35.39,"g":-0.616},{"n":23,"ld":"red","t":35.39,"g":0},{"n":23,"ld":"red","t":38.15,"g":2.76},
{"n":24,"ld":"red","t":36.87,"g":-0.616},{"n":24,"ld":"red","t":36.87,"g":0},{"n":24,"ld":"red","t":39.76,"g":2.89},
{"n":25,"ld":"red","t":38.26,"g":-0.616},{"n":25,"ld":"red","t":38.26,"g":0},{"n":25,"ld":"red","t":41.27,"g":3.01},
{"n":26,"ld":"red","t":39.65,"g":-0.616},{"n":26,"ld":"red","t":39.65,"g":0},{"n":26,"ld":"red","t":42.78,"g":3.13},
{"n":27,"ld":"red","t":41.04,"g":-0.616},{"n":27,"ld":"red","t":41.04,"g":0},{"n":27,"ld":"red","t":44.26,"g":3.22},
{"n":28,"ld":"red","t":42.52,"g":-0.616},{"n":28,"ld":"red","t":42.52,"g":0},{"n":28,"ld":"red","t":45.90,"g":3.38},
{"n":29,"ld":"green","t":44.78,"g":-0.616},{"n":29,"ld":"green","t":44.78,"g":0},{"n":29,"ld":"green","t":47.56,"g":2.78},
{"n":30,"ld":"green","t":46.17,"g":-0.616},{"n":30,"ld":"green","t":46.17,"g":0},{"n":30,"ld":"green","t":49.04,"g":2.87},
{"n":31,"ld":"green","t":47.57,"g":-0.616},{"n":31,"ld":"green","t":47.57,"g":0},{"n":31,"ld":"green","t":50.53,"g":2.96},
{"n":32,"ld":"green","t":49.04,"g":-0.616},{"n":32,"ld":"green","t":49.04,"g":0},{"n":32,"ld":"green","t":52.07,"g":3.03},
{"n":33,"ld":"green","t":50.52,"g":-0.616},{"n":33,"ld":"green","t":50.52,"g":0},{"n":33,"ld":"green","t":53.65,"g":3.13},
{"n":34,"ld":"green","t":52.00,"g":-0.616},{"n":34,"ld":"green","t":52.00,"g":0},{"n":34,"ld":"green","t":55.19,"g":3.19},
{"n":35,"ld":"green","t":53.48,"g":-0.616},{"n":35,"ld":"green","t":53.48,"g":0},{"n":35,"ld":"green","t":56.79,"g":3.31},
{"n":36,"ld":"green","t":54.96,"g":-0.616},{"n":36,"ld":"green","t":54.96,"g":0},{"n":36,"ld":"green","t":58.36,"g":3.40},
{"n":37,"ld":"green","t":56.35,"g":-0.616},{"n":37,"ld":"green","t":56.35,"g":0},{"n":37,"ld":"green","t":60.01,"g":3.66},
{"n":38,"ld":"green","t":57.83,"g":-0.616},{"n":38,"ld":"green","t":57.83,"g":0},{"n":38,"ld":"green","t":61.69,"g":3.86},
{"n":39,"ld":"green","t":59.30,"g":-0.616},{"n":39,"ld":"green","t":59.30,"g":0},{"n":39,"ld":"green","t":63.23,"g":3.93},
{"n":40,"ld":"green","t":60.78,"g":-0.616},{"n":40,"ld":"green","t":60.78,"g":0},{"n":40,"ld":"green","t":64.81,"g":4.03},
{"n":41,"ld":"red","t":62.17,"g":-0.616},{"n":41,"ld":"red","t":62.17,"g":0},{"n":41,"ld":"red","t":66.17,"g":4.0},
{"n":42,"ld":"red","t":63.65,"g":-0.616},{"n":42,"ld":"red","t":63.65,"g":0},{"n":42,"ld":"red","t":67.65,"g":4.0}
],
"lbl":[
{"n":"1","t":1.13},{"n":"2","t":2.955},{"n":"3","t":4.39},{"n":"4","t":5.87},{"n":"5","t":7.35},{"n":"6","t":8.87},{"n":"7","t":10.39},{"n":"8","t":11.87},{"n":"9","t":13.35},{"n":"10","t":14.83},{"n":"11","t":16.305},{"n":"12","t":17.735},{"n":"13","t":19.13},{"n":"14","t":20.565},{"n":"15","t":22.04},{"n":"16","t":23.565},{"n":"17","t":25.045},{"n":"18","t":26.52},{"n":"19","t":28.04},{"n":"20","t":29.52},{"n":"21","t":31.26},{"n":"22","t":33.175},{"n":"23","t":34.74},{"n":"24","t":36.13},{"n":"25","t":37.565},{"n":"26","t":38.955},{"n":"27","t":40.345},{"n":"28","t":41.78},{"n":"29","t":43.65},{"n":"30","t":45.475},{"n":"31","t":46.87},{"n":"32","t":48.305},{"n":"33","t":49.78},{"n":"34","t":51.26},{"n":"35","t":52.74},{"n":"36","t":54.22},{"n":"37","t":55.655},{"n":"38","t":57.09},{"n":"39","t":58.565},{"n":"40","t":60.04},{"n":"41","t":61.475},{"n":"42","t":62.91}
]
},
"resolve":{"scale":{"color":"independent","stroke":"independent","fill":"independent"}},
"layer":[
{"data":{"name":"laps"},"mark":{"type":"line","strokeDash":[5,3],"strokeWidth":1.2,"clip":true},
"encoding":{
"x":{"field":"t","type":"quantitative","scale":{"domain":[0,64.96],"nice":false,"zero":false},"axis":{"orient":"top","title":null,"values":[2.26,3.65,5.13,6.61,8.09,9.65,11.13,12.61,14.09,15.57,17.04,18.43,19.83,21.30,22.78,24.35,25.74,27.30,28.78,30.26,32.26,34.09,35.39,36.87,38.26,39.65,41.04,42.52,44.78,46.17,47.57,49.04,50.52,52.00,53.48,54.96,56.35,57.83,59.30,60.78,62.17,63.65],"grid":true,"gridColor":"#cccccc","gridWidth":1,"ticks":false,"labels":false,"domainColor":"#000000","domainWidth":1.5}},
"y":{"field":"g","type":"quantitative","scale":{"domain":[-0.616,5.546],"nice":false,"zero":false,"reverse":true},"axis":{"orient":"left","title":null,"values":[0,1,2,3,4,5],"grid":false,"ticks":false,"labelExpr":"'+' + datum.value + \"'\"","labelFont":"Liberation Sans","labelFontSize":10,"labelColor":"#000000","labelPadding":5,"domainColor":"#000000","domainWidth":1.5}},
"stroke":{"field":"ld","type":"nominal","scale":{"domain":["blue","red","green"],"range":["#a0a0ff","#ffa8a8","#a8e8a8"]},"legend":null},"detail":{"field":"n"},"order":{"field":"g","type":"quantitative"}}},
{"data":{"values":[{"g":0.5},{"g":1.5},{"g":2.5},{"g":3.5},{"g":4.5}]},"mark":{"type":"rule","color":"#cccccc","strokeWidth":1},
"encoding":{"x":{"datum":0,"type":"quantitative","scale":{"domain":[0,64.96],"nice":false,"zero":false},"axis":{"orient":"top","title":null,"values":[2.26,3.65,5.13,6.61,8.09,9.65,11.13,12.61,14.09,15.57,17.04,18.43,19.83,21.30,22.78,24.35,25.74,27.30,28.78,30.26,32.26,34.09,35.39,36.87,38.26,39.65,41.04,42.52,44.78,46.17,47.57,49.04,50.52,52.00,53.48,54.96,56.35,57.83,59.30,60.78,62.17,63.65],"grid":true,"gridColor":"#cccccc","gridWidth":1,"ticks":false,"labels":false,"domainColor":"#000000","domainWidth":1.5}},"x2":{"datum":64.26},
"y":{"field":"g","type":"quantitative","scale":{"domain":[-0.616,5.546],"nice":false,"zero":false,"reverse":true},"axis":{"orient":"left","title":null,"values":[0,1,2,3,4,5],"grid":false,"ticks":false,"labelExpr":"'+' + datum.value + \"'\"","labelFont":"Liberation Sans","labelFontSize":10,"labelColor":"#000000","labelPadding":5,"domainColor":"#000000","domainWidth":1.5}}}},
{"data":{"values":[{"g":0},{"g":1},{"g":2},{"g":3},{"g":4},{"g":5}]},"mark":{"type":"rule","color":"#808080","strokeWidth":1},
"encoding":{"x":{"datum":0,"type":"quantitative","scale":{"domain":[0,64.96],"nice":false,"zero":false},"axis":{"orient":"top","title":null,"values":[2.26,3.65,5.13,6.61,8.09,9.65,11.13,12.61,14.09,15.57,17.04,18.43,19.83,21.30,22.78,24.35,25.74,27.30,28.78,30.26,32.26,34.09,35.39,36.87,38.26,39.65,41.04,42.52,44.78,46.17,47.57,49.04,50.52,52.00,53.48,54.96,56.35,57.83,59.30,60.78,62.17,63.65],"grid":true,"gridColor":"#cccccc","gridWidth":1,"ticks":false,"labels":false,"domainColor":"#000000","domainWidth":1.5}},"x2":{"datum":64.26},
"y":{"field":"g","type":"quantitative","scale":{"domain":[-0.616,5.546],"nice":false,"zero":false,"reverse":true},"axis":{"orient":"left","title":null,"values":[0,1,2,3,4,5],"grid":false,"ticks":false,"labelExpr":"'+' + datum.value + \"'\"","labelFont":"Liberation Sans","labelFontSize":10,"labelColor":"#000000","labelPadding":5,"domainColor":"#000000","domainWidth":1.5}}}},
{"data":{"name":"drv"},"mark":{"type":"line","strokeWidth":2},
"encoding":{
"x":{"field":"t","type":"quantitative","scale":{"domain":[0,64.96],"nice":false,"zero":false},"axis":{"orient":"top","title":null,"values":[2.26,3.65,5.13,6.61,8.09,9.65,11.13,12.61,14.09,15.57,17.04,18.43,19.83,21.30,22.78,24.35,25.74,27.30,28.78,30.26,32.26,34.09,35.39,36.87,38.26,39.65,41.04,42.52,44.78,46.17,47.57,49.04,50.52,52.00,53.48,54.96,56.35,57.83,59.30,60.78,62.17,63.65],"grid":true,"gridColor":"#cccccc","gridWidth":1,"ticks":false,"labels":false,"domainColor":"#000000","domainWidth":1.5}},
"y":{"field":"g","type":"quantitative","scale":{"domain":[-0.616,5.546],"nice":false,"zero":false,"reverse":true},"axis":{"orient":"left","title":null,"values":[0,1,2,3,4,5],"grid":false,"ticks":false,"labelExpr":"'+' + datum.value + \"'\"","labelFont":"Liberation Sans","labelFontSize":10,"labelColor":"#000000","labelPadding":5,"domainColor":"#000000","domainWidth":1.5}},
"color":{"field":"d","type":"nominal","scale":{"domain":["blue","red","green","redY","greenY","darkgreen","olive","gray","black","pink","violet","purple","yellow","sky","navy","cyan","ygreen"],"range":["#0000ff","#ff0000","#00c000","#ff0000","#00c000","#2e8b2e","#9c9060","#999999","#333333","#ff8cb0","#cc55ff","#993399","#dddd00","#0099ff","#0000aa","#33cccc","#aabf5f"]},"legend":null},"order":{"field":"l","type":"quantitative"}}},
{"data":{"name":"drv"},"mark":{"type":"point","filled":true,"size":36,"strokeWidth":1.3,"opacity":1},
"encoding":{
"x":{"field":"t","type":"quantitative","scale":{"domain":[0,64.96],"nice":false,"zero":false},"axis":{"orient":"top","title":null,"values":[2.26,3.65,5.13,6.61,8.09,9.65,11.13,12.61,14.09,15.57,17.04,18.43,19.83,21.30,22.78,24.35,25.74,27.30,28.78,30.26,32.26,34.09,35.39,36.87,38.26,39.65,41.04,42.52,44.78,46.17,47.57,49.04,50.52,52.00,53.48,54.96,56.35,57.83,59.30,60.78,62.17,63.65],"grid":true,"gridColor":"#cccccc","gridWidth":1,"ticks":false,"labels":false,"domainColor":"#000000","domainWidth":1.5}},
"y":{"field":"g","type":"quantitative","scale":{"domain":[-0.616,5.546],"nice":false,"zero":false,"reverse":true},"axis":{"orient":"left","title":null,"values":[0,1,2,3,4,5],"grid":false,"ticks":false,"labelExpr":"'+' + datum.value + \"'\"","labelFont":"Liberation Sans","labelFontSize":10,"labelColor":"#000000","labelPadding":5,"domainColor":"#000000","domainWidth":1.5}},
"stroke":{"field":"d","type":"nominal","scale":{"domain":["blue","red","green","redY","greenY","darkgreen","olive","gray","black","pink","violet","purple","yellow","sky","navy","cyan","ygreen"],"range":["#0000ff","#ff0000","#00c000","#ff0000","#00c000","#2e8b2e","#9c9060","#999999","#333333","#ff8cb0","#cc55ff","#993399","#dddd00","#0099ff","#0000aa","#33cccc","#aabf5f"]},"legend":null},
"fill":{"field":"d","type":"nominal","scale":{"domain":["blue","red","green","redY","greenY","darkgreen","olive","gray","black","pink","violet","purple","yellow","sky","navy","cyan","ygreen"],"range":["#ffffff","#ffffff","#ffffff","#ffff00","#ffff00","#ffffff","#ffffff","#ffffff","#ffffff","#ffffff","#ffffff","#ffffff","#ffffff","#ffffff","#ffffff","#ffffff","#ffffff"]},"legend":null}}},
{"data":{"name":"lbl"},"mark":{"type":"text","font":"Liberation Sans","fontSize":12,"align":"center","baseline":"alphabetic","color":"#000000"},
"encoding":{
"x":{"field":"t","type":"quantitative","scale":{"domain":[0,64.96],"nice":false,"zero":false},"axis":{"orient":"top","title":null,"values":[2.26,3.65,5.13,6.61,8.09,9.65,11.13,12.61,14.09,15.57,17.04,18.43,19.83,21.30,22.78,24.35,25.74,27.30,28.78,30.26,32.26,34.09,35.39,36.87,38.26,39.65,41.04,42.52,44.78,46.17,47.57,49.04,50.52,52.00,53.48,54.96,56.35,57.83,59.30,60.78,62.17,63.65],"grid":true,"gridColor":"#cccccc","gridWidth":1,"ticks":false,"labels":false,"domainColor":"#000000","domainWidth":1.5}},
"y":{"datum":-0.673,"type":"quantitative","scale":{"domain":[-0.616,5.546],"nice":false,"zero":false,"reverse":true},"axis":{"orient":"left","title":null,"values":[0,1,2,3,4,5],"grid":false,"ticks":false,"labelExpr":"'+' + datum.value + \"'\"","labelFont":"Liberation Sans","labelFontSize":10,"labelColor":"#000000","labelPadding":5,"domainColor":"#000000","domainWidth":1.5}},
"text":{"field":"n"}}},
{"data":{"values":[{}]},"mark":{"type":"point","shape":"M-1,-0.5L1,0L-1,0.5Z","filled":true,"color":"#000000","size":169,"opacity":1},
"encoding":{"x":{"datum":64.39,"type":"quantitative","scale":{"domain":[0,64.96],"nice":false,"zero":false},"axis":{"orient":"top","title":null,"values":[2.26,3.65,5.13,6.61,8.09,9.65,11.13,12.61,14.09,15.57,17.04,18.43,19.83,21.30,22.78,24.35,25.74,27.30,28.78,30.26,32.26,34.09,35.39,36.87,38.26,39.65,41.04,42.52,44.78,46.17,47.57,49.04,50.52,52.00,53.48,54.96,56.35,57.83,59.30,60.78,62.17,63.65],"grid":true,"gridColor":"#cccccc","gridWidth":1,"ticks":false,"labels":false,"domainColor":"#000000","domainWidth":1.5}},"y":{"datum":-0.616,"type":"quantitative","scale":{"domain":[-0.616,5.546],"nice":false,"zero":false,"reverse":true},"axis":{"orient":"left","title":null,"values":[0,1,2,3,4,5],"grid":false,"ticks":false,"labelExpr":"'+' + datum.value + \"'\"","labelFont":"Liberation Sans","labelFontSize":10,"labelColor":"#000000","labelPadding":5,"domainColor":"#000000","domainWidth":1.5}}}},
{"data":{"values":[{}]},"mark":{"type":"point","shape":"M-0.5,-1L0,1L0.5,-1Z","filled":true,"color":"#000000","size":144,"opacity":1},
"encoding":{"x":{"datum":0,"type":"quantitative","scale":{"domain":[0,64.96],"nice":false,"zero":false},"axis":{"orient":"top","title":null,"values":[2.26,3.65,5.13,6.61,8.09,9.65,11.13,12.61,14.09,15.57,17.04,18.43,19.83,21.30,22.78,24.35,25.74,27.30,28.78,30.26,32.26,34.09,35.39,36.87,38.26,39.65,41.04,42.52,44.78,46.17,47.57,49.04,50.52,52.00,53.48,54.96,56.35,57.83,59.30,60.78,62.17,63.65],"grid":true,"gridColor":"#cccccc","gridWidth":1,"ticks":false,"labels":false,"domainColor":"#000000","domainWidth":1.5}},"y":{"datum":5.475,"type":"quantitative","scale":{"domain":[-0.616,5.546],"nice":false,"zero":false,"reverse":true},"axis":{"orient":"left","title":null,"values":[0,1,2,3,4,5],"grid":false,"ticks":false,"labelExpr":"'+' + datum.value + \"'\"","labelFont":"Liberation Sans","labelFontSize":10,"labelColor":"#000000","labelPadding":5,"domainColor":"#000000","domainWidth":1.5}}}},
{"data":{"values":[{}]},"mark":{"type":"text","text":"Time","font":"Liberation Sans","fontSize":16,"align":"right","baseline":"alphabetic","color":"#000000"},
"encoding":{"x":{"datum":64.87,"type":"quantitative","scale":{"domain":[0,64.96],"nice":false,"zero":false},"axis":{"orient":"top","title":null,"values":[2.26,3.65,5.13,6.61,8.09,9.65,11.13,12.61,14.09,15.57,17.04,18.43,19.83,21.30,22.78,24.35,25.74,27.30,28.78,30.26,32.26,34.09,35.39,36.87,38.26,39.65,41.04,42.52,44.78,46.17,47.57,49.04,50.52,52.00,53.48,54.96,56.35,57.83,59.30,60.78,62.17,63.65],"grid":true,"gridColor":"#cccccc","gridWidth":1,"ticks":false,"labels":false,"domainColor":"#000000","domainWidth":1.5}},"y":{"datum":-0.335,"type":"quantitative","scale":{"domain":[-0.616,5.546],"nice":false,"zero":false,"reverse":true},"axis":{"orient":"left","title":null,"values":[0,1,2,3,4,5],"grid":false,"ticks":false,"labelExpr":"'+' + datum.value + \"'\"","labelFont":"Liberation Sans","labelFontSize":10,"labelColor":"#000000","labelPadding":5,"domainColor":"#000000","domainWidth":1.5}}}},
{"data":{"values":[{}]},"mark":{"type":"text","text":"Gap","font":"Liberation Sans","fontSize":16,"align":"left","baseline":"alphabetic","color":"#000000"},
"encoding":{"x":{"datum":-1.74,"type":"quantitative","scale":{"domain":[0,64.96],"nice":false,"zero":false},"axis":{"orient":"top","title":null,"values":[2.26,3.65,5.13,6.61,8.09,9.65,11.13,12.61,14.09,15.57,17.04,18.43,19.83,21.30,22.78,24.35,25.74,27.30,28.78,30.26,32.26,34.09,35.39,36.87,38.26,39.65,41.04,42.52,44.78,46.17,47.57,49.04,50.52,52.00,53.48,54.96,56.35,57.83,59.30,60.78,62.17,63.65],"grid":true,"gridColor":"#cccccc","gridWidth":1,"ticks":false,"labels":false,"domainColor":"#000000","domainWidth":1.5}},"y":{"datum":5.80,"type":"quantitative","scale":{"domain":[-0.616,5.546],"nice":false,"zero":false,"reverse":true},"axis":{"orient":"left","title":null,"values":[0,1,2,3,4,5],"grid":false,"ticks":false,"labelExpr":"'+' + datum.value + \"'\"","labelFont":"Liberation Sans","labelFontSize":10,"labelColor":"#000000","labelPadding":5,"domainColor":"#000000","domainWidth":1.5}}}}
]
}
